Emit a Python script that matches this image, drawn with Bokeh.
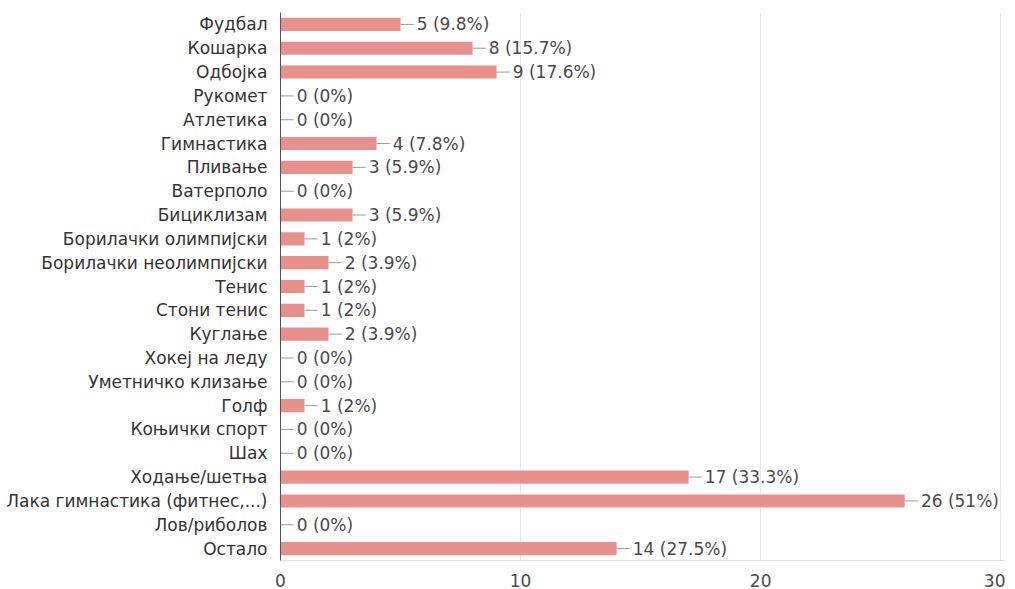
from bokeh.plotting import figure
from bokeh.models import ColumnDataSource, FactorRange, Range1d, FixedTicker
from bokeh.core.properties import value
from bokeh.embed import file_html
from bokeh.resources import INLINE

categories = ["Фудбал", "Кошарка", "Одбојка", "Рукомет", "Атлетика", "Гимнастика",
              "Пливање", "Ватерполо", "Бициклизам", "Борилачки олимпијски",
              "Борилачки неолимпијски", "Тенис", "Стони тенис", "Куглање",
              "Хокеј на леду", "Уметничко клизање", "Голф", "Коњички спорт", "Шах",
              "Ходање/шетња", "Лака гимнастика (фитнес,...)", "Лов/риболов", "Остало"]
counts = [5, 8, 9, 0, 0, 4, 3, 0, 3, 1, 2, 1, 1, 2, 0, 0, 1, 0, 0, 17, 26, 0, 14]
percents = ["9.8%", "15.7%", "17.6%", "0%", "0%", "7.8%", "5.9%", "0%", "5.9%", "2%",
            "3.9%", "2%", "2%", "3.9%", "0%", "0%", "2%", "0%", "0%", "33.3%", "51%",
            "0%", "27.5%"]
x_ticks = [0, 10, 20, 30]

FONT = "DejaVu Sans"
LEADER = 0.55

labels = [f"{c} ({p})" for c, p in zip(counts, percents)]
src = ColumnDataSource(dict(
    cat=categories, count=counts, label=labels,
    lead_end=[c + LEADER for c in counts],
))

p = figure(y_range=FactorRange(factors=list(reversed(categories))),
           x_range=Range1d(0, 30.2),
           frame_width=725, frame_height=548,
           min_border_left=280, min_border_right=0, min_border_top=12,
           min_border_bottom=0,
           output_backend="svg", toolbar_location=None)

p.hbar(y="cat", right="count", left=0, height=0.55, source=src,
       fill_color="#e8908c", line_color=None)
p.segment(x0="count", y0="cat", x1="lead_end", y1="cat", source=src,
          line_color="#9a9a9a", line_width=1)
p.text(x="lead_end", y="cat", text="label", source=src, x_offset=3,
       text_baseline="middle", text_align="left",
       text_font=value(FONT), text_font_size="17px", text_color="#4a4a4a")

p.outline_line_color = None
p.ygrid.grid_line_color = None
p.xgrid.grid_line_color = "#e6e6e6"
p.xaxis.ticker = FixedTicker(ticks=x_ticks)
p.xaxis.axis_line_color = "#e0e0e0"
p.xaxis.major_tick_line_color = None
p.xaxis.minor_tick_line_color = None
p.xaxis.major_label_text_font = FONT
p.xaxis.major_label_text_font_size = "17px"
p.xaxis.major_label_text_color = "#4a4a4a"
p.xaxis.major_label_standoff = 7

p.yaxis.axis_line_color = "#555555"
p.yaxis.major_tick_line_color = None
p.yaxis.minor_tick_line_color = None
p.yaxis.major_label_text_font = FONT
p.yaxis.major_label_text_font_size = "17px"
p.yaxis.major_label_text_color = "#333333"
p.yaxis.major_label_standoff = 7

open("out.html", "w").write(file_html(p, INLINE))
